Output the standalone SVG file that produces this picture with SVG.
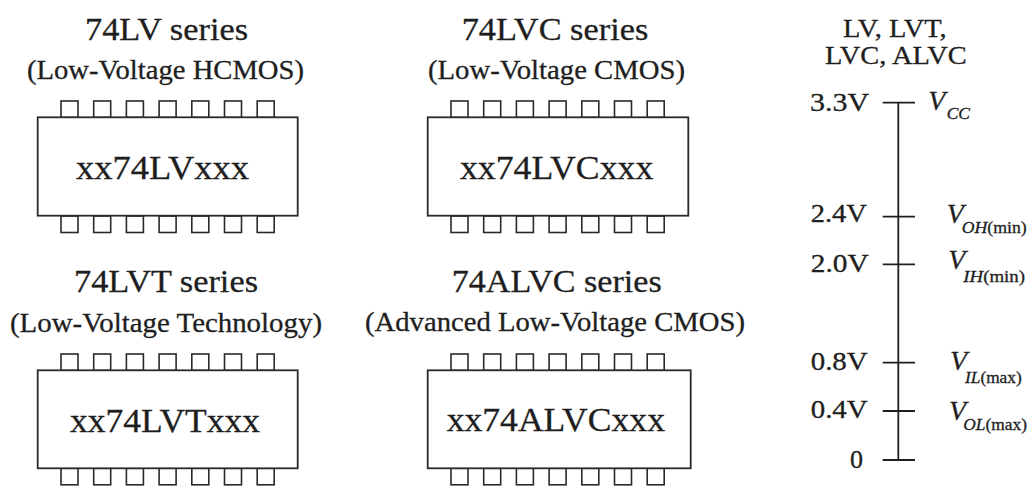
<svg xmlns="http://www.w3.org/2000/svg" xmlns:xlink="http://www.w3.org/1999/xlink" width="1029" height="487" viewBox="0 0 1029 487">
<style>
text { font-family: "Liberation Serif", "Times New Roman", serif; fill: #1e1e1e; stroke: #1e1e1e; stroke-width: 0.3; }
.title { font-size: 32px; }
.sub { font-size: 27px; }
.chip { font-size: 34px; }
.body { fill: #ffffff; stroke: #2a2a2a; stroke-width: 1.8; }
.pin { fill: #ffffff; stroke: #2a2a2a; stroke-width: 1.6; }
.axis { stroke: #1e1e1e; stroke-width: 1.8; fill: none; }
.head { font-size: 25px; }
.volt { font-size: 25px; }
.v { font-size: 28px; font-style: italic; }
.vs { font-size: 17px; }
.it { font-style: italic; }
</style>
<defs>
<g id="pinrow">
<rect class="pin" x="0" y="0" width="17" height="16.5"/>
<rect class="pin" x="32.7" y="0" width="17" height="16.5"/>
<rect class="pin" x="65.4" y="0" width="17" height="16.5"/>
<rect class="pin" x="98.1" y="0" width="17" height="16.5"/>
<rect class="pin" x="130.8" y="0" width="17" height="16.5"/>
<rect class="pin" x="163.5" y="0" width="17" height="16.5"/>
<rect class="pin" x="196.2" y="0" width="17" height="16.5"/>
</g>
</defs>
<rect x="0" y="0" width="1029" height="487" fill="#ffffff"/>

<g id="chip-74lv">
<text class="title" x="85" y="40" textLength="163" lengthAdjust="spacingAndGlyphs">74LV series</text>
<text class="sub" x="27" y="79" textLength="277" lengthAdjust="spacingAndGlyphs">(Low-Voltage HCMOS)</text>
<use xlink:href="#pinrow" x="61" y="101"/>
<use xlink:href="#pinrow" x="61" y="216"/>
<rect class="body" x="37.7" y="117.3" width="260" height="98.4"/>
<text class="chip" x="76" y="179" textLength="173" lengthAdjust="spacingAndGlyphs">xx74LVxxx</text>
</g>

<g id="chip-74lvc">
<text class="title" x="461.7" y="40" textLength="186.6" lengthAdjust="spacingAndGlyphs">74LVC series</text>
<text class="sub" x="428" y="79" textLength="257" lengthAdjust="spacingAndGlyphs">(Low-Voltage CMOS)</text>
<use xlink:href="#pinrow" x="451" y="101"/>
<use xlink:href="#pinrow" x="451" y="216"/>
<rect class="body" x="427.7" y="117.3" width="260.6" height="98.4"/>
<text class="chip" x="460" y="178.5" textLength="193.3" lengthAdjust="spacingAndGlyphs">xx74LVCxxx</text>
</g>

<g id="chip-74lvt">
<text class="title" x="74" y="291.7" textLength="184" lengthAdjust="spacingAndGlyphs">74LVT series</text>
<text class="sub" x="10" y="331.5" textLength="312" lengthAdjust="spacingAndGlyphs">(Low-Voltage Technology)</text>
<use xlink:href="#pinrow" x="61" y="354"/>
<use xlink:href="#pinrow" x="61" y="468.3"/>
<rect class="body" x="37.7" y="370.3" width="260" height="98"/>
<text class="chip" x="70" y="431.7" textLength="190" lengthAdjust="spacingAndGlyphs">xx74LVTxxx</text>
</g>

<g id="chip-74alvc">
<text class="title" x="451.7" y="291.7" textLength="210" lengthAdjust="spacingAndGlyphs">74ALVC series</text>
<text class="sub" x="365" y="331" textLength="380" lengthAdjust="spacingAndGlyphs">(Advanced Low-Voltage CMOS)</text>
<use xlink:href="#pinrow" x="451" y="354"/>
<use xlink:href="#pinrow" x="451" y="468.3"/>
<rect class="body" x="427.7" y="370.3" width="263" height="98"/>
<text class="chip" x="446.7" y="430.5" textLength="218.3" lengthAdjust="spacingAndGlyphs">xx74ALVCxxx</text>
</g>

<g id="voltage-scale">
<text class="head" x="843" y="36.7" textLength="103.7" lengthAdjust="spacingAndGlyphs">LV, LVT,</text>
<text class="head" x="825" y="64" textLength="141.7" lengthAdjust="spacingAndGlyphs">LVC, ALVC</text>
<g id="connectors">
<line class="axis" x1="898.3" y1="102.7" x2="898.3" y2="460"/>
<line class="axis" x1="882.7" y1="102.7" x2="915" y2="102.7"/>
<line class="axis" x1="882.7" y1="216.7" x2="915" y2="216.7"/>
<line class="axis" x1="882.7" y1="264.3" x2="915" y2="264.3"/>
<line class="axis" x1="882.7" y1="362.7" x2="915" y2="362.7"/>
<line class="axis" x1="882.7" y1="411" x2="915" y2="411"/>
<line class="axis" x1="882.7" y1="460" x2="915" y2="460"/>
</g>
<text class="volt" x="810" y="110.7" textLength="59" lengthAdjust="spacingAndGlyphs">3.3V</text>
<text class="volt" x="810.7" y="222" textLength="56.3" lengthAdjust="spacingAndGlyphs">2.4V</text>
<text class="volt" x="810.7" y="272" textLength="58" lengthAdjust="spacingAndGlyphs">2.0V</text>
<text class="volt" x="810.7" y="370" textLength="57" lengthAdjust="spacingAndGlyphs">0.8V</text>
<text class="volt" x="810.7" y="418.3" textLength="57" lengthAdjust="spacingAndGlyphs">0.4V</text>
<text class="volt" x="850" y="468.3" textLength="13" lengthAdjust="spacingAndGlyphs">0</text>

<text class="v" x="928.3" y="110">V</text>
<text class="vs it" x="946.7" y="119.3" textLength="23.3" lengthAdjust="spacingAndGlyphs">CC</text>

<text class="v" x="946.7" y="223">V</text>
<text class="vs" x="961.7" y="233.3" textLength="65" lengthAdjust="spacingAndGlyphs"><tspan class="it">OH</tspan>(min)</text>

<text class="v" x="948.3" y="269.3">V</text>
<text class="vs" x="963.3" y="281.7" textLength="61.7" lengthAdjust="spacingAndGlyphs"><tspan class="it">IH</tspan>(min)</text>

<text class="v" x="950" y="370">V</text>
<text class="vs" x="965" y="383.3" textLength="56.7" lengthAdjust="spacingAndGlyphs"><tspan class="it">IL</tspan>(max)</text>

<text class="v" x="949" y="420">V</text>
<text class="vs" x="963.3" y="430" textLength="63.7" lengthAdjust="spacingAndGlyphs"><tspan class="it">OL</tspan>(max)</text>
</g>
</svg>
